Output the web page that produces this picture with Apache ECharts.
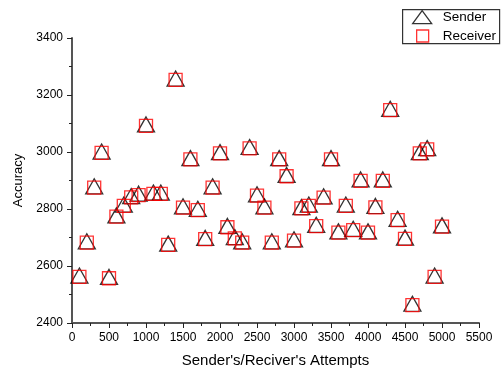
<!DOCTYPE html>
<html>
<head>
<meta charset="utf-8">
<script src="https://cdn.jsdelivr.net/npm/echarts@6/dist/echarts.min.js"></script>
<style>
html,body{margin:0;padding:0;background:#fff;}
#chart{width:501px;height:373px;}
</style>
</head>
<body>
<div id="chart"></div>
<script>
var attempts = [100,200,300,400,500,600,700,800,900,1000,
  1100,1200,1300,1400,1500,1600,1700,1800,1900,2000,
  2100,2200,2300,2400,2500,2600,2700,2800,2900,3000,
  3100,3200,3300,3400,3500,3600,3700,3800,3900,4000,
  4100,4200,4300,4400,4500,4600,4700,4800,4900,5000];
var senderAccuracy = [2562,2682,2875,2997,2557,2773,2811,2841,2849,3092,
  2853,2853,2674,3253,2805,2974,2796,2694,2875,2995,
  2736,2697,2682,3013,2847,2805,2682,2974,2915,2689,
  2802,2811,2740,2840,2974,2717,2811,2726,2899,2717,
  2806,2899,3147,2761,2695,2463,2995,3009,2562,2738];
var receiverAccuracy = [2562,2682,2875,2997,2557,2773,2811,2841,2849,3092,
  2853,2853,2674,3253,2805,2974,2796,2694,2875,2995,
  2736,2697,2682,3013,2847,2805,2682,2974,2915,2689,
  2802,2811,2740,2840,2974,2717,2811,2726,2899,2717,
  2806,2899,3147,2761,2695,2463,2995,3009,2562,2738];
var seriesNames = ['Sender', 'Receiver'];
var xTitle = "Sender's/Reciver's Attempts";
var yTitle = 'Accuracy';

function pairs(xs, ys) { return xs.map(function (x, i) { return [x, ys[i]]; }); }
function plain(v) { return String(v); }

var FONT = "'Liberation Sans', Arial, sans-serif";
var chart = echarts.init(document.getElementById('chart'), null, {renderer: 'canvas'});
chart.setOption({
  animation: false,
  backgroundColor: '#fff',
  textStyle: {fontFamily: FONT},
  grid: {left: 72, right: 22, top: 38, bottom: 50, containLabel: false},
  graphic: [{
    type: 'rect', left: 402, top: 9,
    shape: {width: 97, height: 34},
    style: {fill: 'rgba(0,0,0,0)', stroke: '#333', lineWidth: 1.2},
    z: 10
  }],
  legend: [{
    left: 412, top: 10, padding: 0, orient: 'vertical',
    itemWidth: 19, itemHeight: 13,
    data: [{name: seriesNames[0], icon: 'triangle',
      itemStyle: {color: 'rgba(0,0,0,0)', borderColor: '#000', borderWidth: 1.3}}],
    textStyle: {fontFamily: FONT, fontSize: 13.5, color: '#000', padding: [0, 0, 0, 6]}
  }, {
    left: 416, top: 29, padding: 0, orient: 'vertical',
    itemWidth: 12, itemHeight: 12,
    data: [{name: seriesNames[1], icon: 'rect',
      itemStyle: {color: 'rgba(0,0,0,0)', borderColor: '#ff0000', borderWidth: 1.3}}],
    textStyle: {fontFamily: FONT, fontSize: 13.5, color: '#000', padding: [0, 0, 0, 9]}
  }],
  xAxis: {
    type: 'value', min: 0, max: 5500, interval: 500,
    name: xTitle, nameLocation: 'middle', nameGap: 30,
    nameTextStyle: {fontFamily: FONT, fontSize: 15, color: '#000'},
    axisLine: {show: true, onZero: false, lineStyle: {color: '#555', width: 2}},
    axisTick: {show: true, length: 5, inside: false, lineStyle: {color: '#222', width: 1}},
    minorTick: {show: true, splitNumber: 2, length: 3, lineStyle: {color: '#222', width: 1}},
    axisLabel: {fontFamily: FONT, fontSize: 12, color: '#000', margin: 9, formatter: plain},
    splitLine: {show: false}
  },
  yAxis: {
    type: 'value', min: 2400, max: 3400, interval: 200,
    name: yTitle, nameLocation: 'middle', nameGap: 47,
    nameTextStyle: {fontFamily: FONT, fontSize: 13, color: '#000'},
    axisLine: {show: true, onZero: false, lineStyle: {color: '#555', width: 2}},
    axisTick: {show: true, length: 5, inside: false, lineStyle: {color: '#222', width: 1}},
    minorTick: {show: true, splitNumber: 2, length: 3, lineStyle: {color: '#222', width: 1}},
    axisLabel: {fontFamily: FONT, fontSize: 12, color: '#000', margin: 9, formatter: plain},
    splitLine: {show: false}
  },
  series: [{
    name: seriesNames[0], type: 'scatter',
    data: pairs(attempts, senderAccuracy),
    symbol: 'triangle', symbolSize: [17, 15], symbolOffset: [0, -1.3],
    itemStyle: {color: 'rgba(0,0,0,0)', borderColor: '#000', borderWidth: 1.3},
    emphasis: {disabled: true}, z: 2
  }, {
    name: seriesNames[1], type: 'scatter',
    data: pairs(attempts, receiverAccuracy),
    symbol: 'rect', symbolSize: 13,
    itemStyle: {color: 'rgba(0,0,0,0)', borderColor: '#ff0000', borderWidth: 1.3},
    emphasis: {disabled: true}, z: 3
  }]
});
</script>
</body>
</html>
